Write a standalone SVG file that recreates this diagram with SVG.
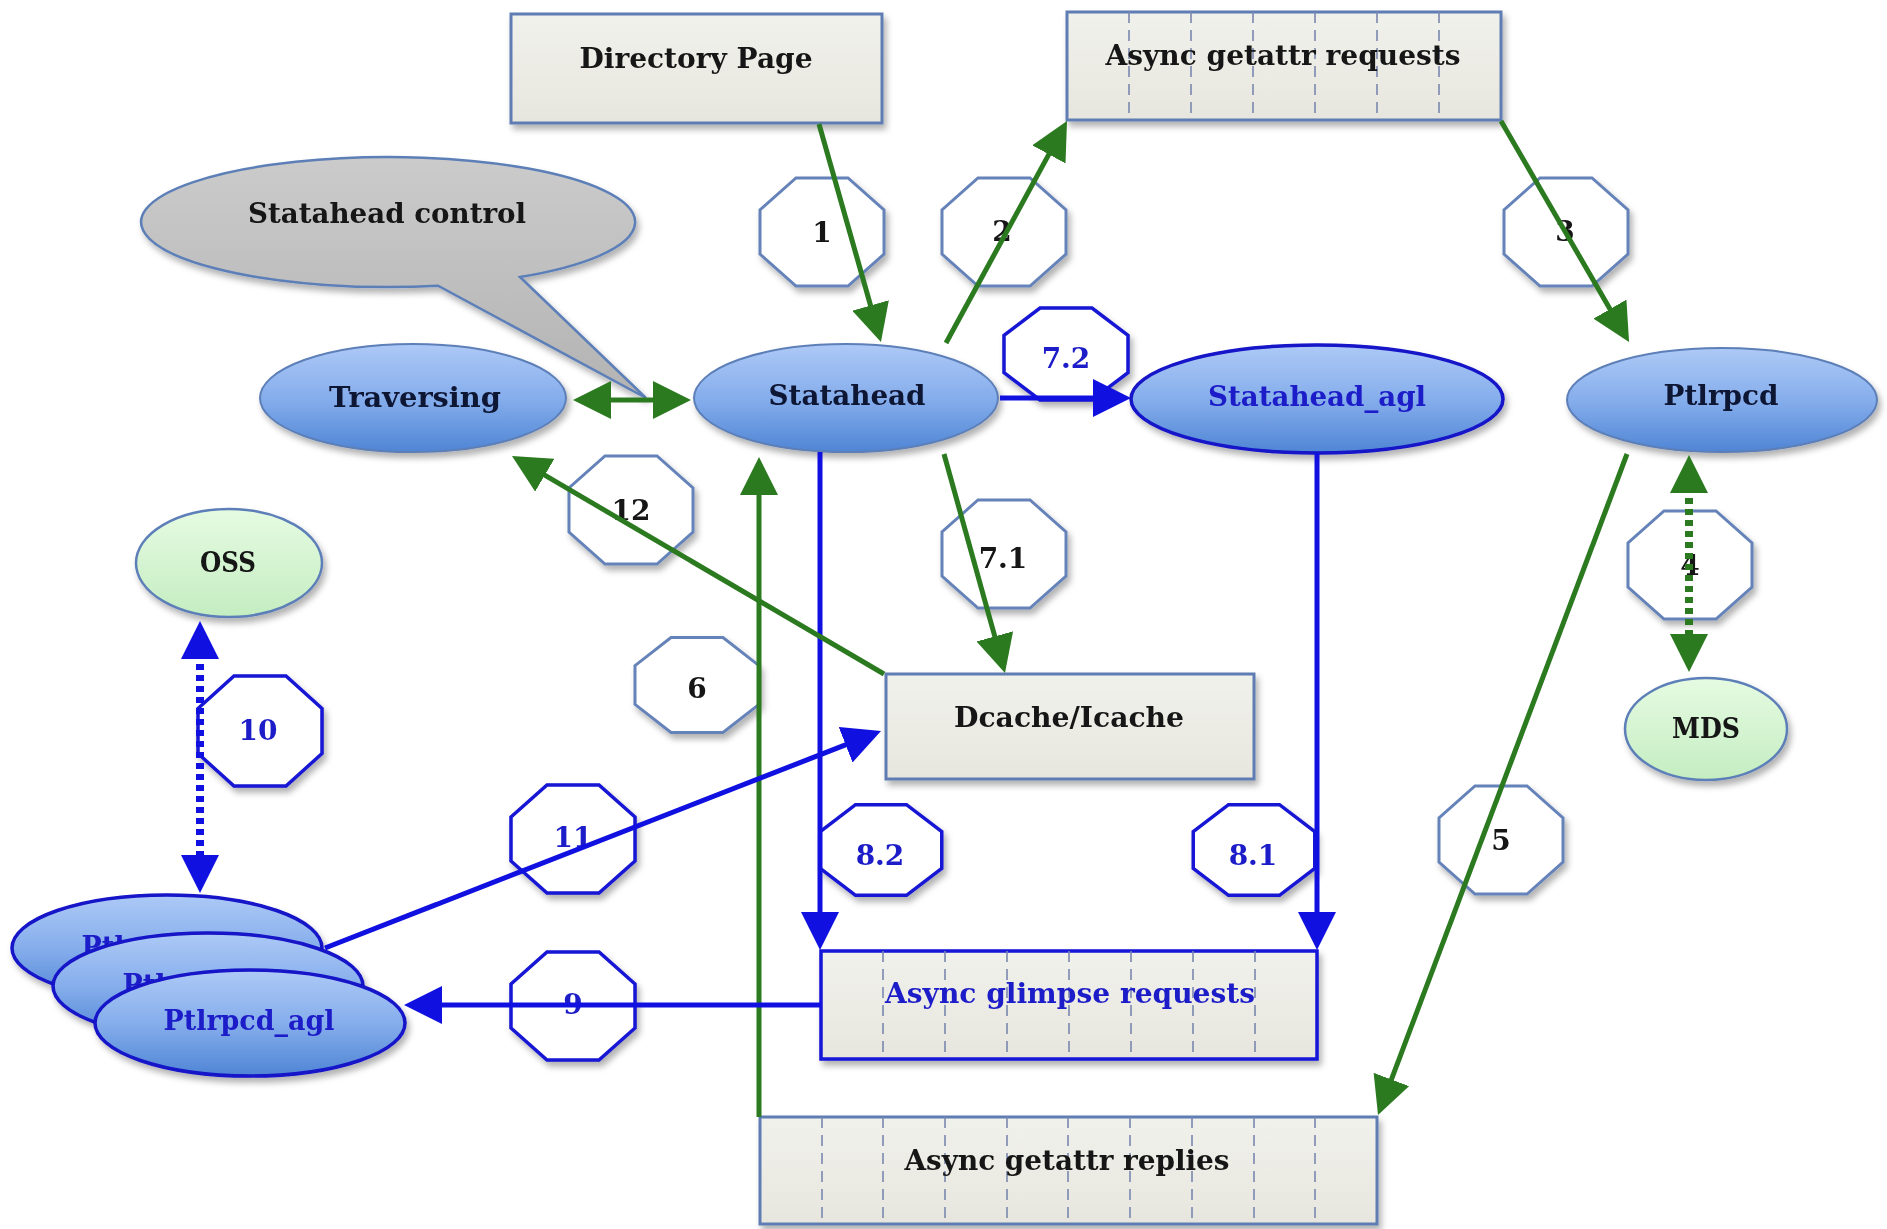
<svg xmlns="http://www.w3.org/2000/svg" width="1887" height="1229" viewBox="0 0 1887 1229">
<defs>
<style>
.t{font-family:"DejaVu Serif","Liberation Serif",serif;font-weight:bold;font-size:28px;text-anchor:middle}
.k{fill:#141414}
.n{fill:#0e1232}
.b{fill:#1c1cc8}
.box{fill:url(#gBox);stroke:#5f7db3;stroke-width:3}
.boxb{fill:url(#gBox);stroke:#1414d8;stroke-width:3.5}
.cell{stroke:#7a88b0;stroke-width:1.6;stroke-dasharray:11 7;fill:none}
.ell{fill:url(#gBlue);stroke:#5d7fb8;stroke-width:2}
.ellb{fill:url(#gBlue);stroke:#1212c8;stroke-width:3.5}
.grn{fill:url(#gGreen);stroke:#5d7fb8;stroke-width:2.5}
.oct{fill:#ffffff;stroke:#6583b9;stroke-width:3}
.octb{fill:#ffffff;stroke:#1616d4;stroke-width:3.5}
.cg{fill:none;stroke:#2b7a1f;stroke-width:5}
.cb{fill:none;stroke:#1010e0;stroke-width:5}
.dot{stroke-dasharray:6 5;stroke-width:8}
</style>
<linearGradient id="gBlue" x1="0" y1="0" x2="0" y2="1">
<stop offset="0" stop-color="#adc9f6"/><stop offset="0.5" stop-color="#86aeec"/><stop offset="1" stop-color="#4f85d5"/>
</linearGradient>
<linearGradient id="gGreen" x1="0" y1="0" x2="0" y2="1">
<stop offset="0" stop-color="#e6fbe2"/><stop offset="1" stop-color="#c4edc1"/>
</linearGradient>
<linearGradient id="gGray" x1="0" y1="0" x2="0" y2="1">
<stop offset="0" stop-color="#cbcbcb"/><stop offset="1" stop-color="#b3b3b3"/>
</linearGradient>
<linearGradient id="gBox" x1="0" y1="0" x2="0" y2="1">
<stop offset="0" stop-color="#f1f1ec"/><stop offset="1" stop-color="#e7e6de"/>
</linearGradient>
<filter id="sh" x="-20%" y="-20%" width="140%" height="150%">
<feDropShadow dx="3" dy="5" stdDeviation="3" flood-color="#000" flood-opacity="0.3"/>
</filter>
<polygon id="oct" points="-26,-54 26,-54 62,-22 62,22 26,54 -26,54 -62,22 -62,-22" vector-effect="non-scaling-stroke"/>
<marker id="ag" viewBox="0 0 38 38" markerWidth="38" markerHeight="38" refX="6" refY="19" orient="auto-start-reverse" markerUnits="userSpaceOnUse">
<path d="M0,0 L38,19 L0,38 z" fill="#2b7a1f"/>
</marker>
<marker id="ab" viewBox="0 0 38 38" markerWidth="38" markerHeight="38" refX="6" refY="19" orient="auto-start-reverse" markerUnits="userSpaceOnUse">
<path d="M0,0 L38,19 L0,38 z" fill="#1010e0"/>
</marker>
</defs>
<rect width="1887" height="1229" fill="#ffffff"/>

<g id="directory-page" filter="url(#sh)">
<rect class="box" x="511" y="14" width="371" height="109"/>
<text class="t k" x="696" y="68" textLength="233" lengthAdjust="spacingAndGlyphs">Directory Page</text>
</g>

<g id="async-getattr-requests" filter="url(#sh)">
<rect class="box" x="1067" y="12" width="434" height="108"/>
<path class="cell" d="M1129,12V120M1191,12V120M1253,12V120M1315,12V120M1377,12V120M1439,12V120"/>
<text class="t k" x="1283" y="65" textLength="355" lengthAdjust="spacingAndGlyphs">Async getattr requests</text>
</g>

<g id="statahead-control" filter="url(#sh)">
<path d="M438,285.7 A247,65 0 1,1 520,277 L646,398 Z" fill="url(#gGray)" stroke="#5d7fb8" stroke-width="2.5"/>
<text class="t k" x="387" y="223" textLength="278" lengthAdjust="spacingAndGlyphs">Statahead control</text>
</g>

<g id="traversing" filter="url(#sh)">
<ellipse class="ell" cx="413" cy="398" rx="153" ry="54"/>
<text class="t n" x="415" y="407" textLength="172" lengthAdjust="spacingAndGlyphs">Traversing</text>
</g>

<g id="statahead" filter="url(#sh)">
<ellipse class="ell" cx="846" cy="398" rx="152" ry="54"/>
<text class="t n" x="847" y="405" textLength="157" lengthAdjust="spacingAndGlyphs">Statahead</text>
</g>

<g id="statahead_agl" filter="url(#sh)">
<ellipse class="ellb" cx="1317" cy="399" rx="186" ry="54"/>
<text class="t b" x="1317" y="406" textLength="218" lengthAdjust="spacingAndGlyphs">Statahead_agl</text>
</g>

<g id="ptlrpcd" filter="url(#sh)">
<ellipse class="ell" cx="1722" cy="400" rx="155" ry="52"/>
<text class="t n" x="1721" y="405" textLength="115" lengthAdjust="spacingAndGlyphs">Ptlrpcd</text>
</g>

<g id="mds" filter="url(#sh)">
<ellipse class="grn" cx="1706" cy="729" rx="81" ry="51"/>
<text class="t k" x="1706" y="738" textLength="68" lengthAdjust="spacingAndGlyphs">MDS</text>
</g>

<g id="oss" filter="url(#sh)">
<ellipse class="grn" cx="229" cy="563" rx="93" ry="54"/>
<text class="t k" x="228" y="572" textLength="56" lengthAdjust="spacingAndGlyphs">OSS</text>
</g>

<g id="dcache-icache" filter="url(#sh)">
<rect class="box" x="886" y="674" width="368" height="105"/>
<text class="t k" x="1069" y="727" textLength="230" lengthAdjust="spacingAndGlyphs">Dcache/Icache</text>
</g>

<g id="async-glimpse-requests" filter="url(#sh)">
<rect class="boxb" x="821" y="951" width="496" height="108"/>
<path class="cell" d="M883,951V1059M945,951V1059M1007,951V1059M1069,951V1059M1131,951V1059M1193,951V1059M1255,951V1059"/>
<text class="t b" x="1070" y="1003" textLength="370" lengthAdjust="spacingAndGlyphs">Async glimpse requests</text>
</g>

<g id="async-getattr-replies" filter="url(#sh)">
<rect class="box" x="760" y="1117" width="617" height="107"/>
<path class="cell" d="M822,1117V1224M883,1117V1224M945,1117V1224M1007,1117V1224M1068,1117V1224M1130,1117V1224M1192,1117V1224M1254,1117V1224M1315,1117V1224"/>
<text class="t k" x="1067" y="1170" textLength="325" lengthAdjust="spacingAndGlyphs">Async getattr replies</text>
</g>

<g id="ptlrpcd_agl" filter="url(#sh)">
<ellipse class="ellb" cx="167" cy="948" rx="155" ry="53"/>
<text class="t b" x="167" y="956" textLength="171" lengthAdjust="spacingAndGlyphs">Ptlrpcd_agl</text>
<ellipse class="ellb" cx="208" cy="986" rx="155" ry="53"/>
<text class="t b" x="208" y="994" textLength="171" lengthAdjust="spacingAndGlyphs">Ptlrpcd_agl</text>
<ellipse class="ellb" cx="250" cy="1023" rx="155" ry="53"/>
<text class="t b" x="249" y="1030" textLength="171" lengthAdjust="spacingAndGlyphs">Ptlrpcd_agl</text>
</g>

<g id="step-labels" filter="url(#sh)">
<g id="step-1"><use href="#oct" class="oct" transform="translate(822,232)"/><text class="t k" x="822" y="242">1</text></g>
<g id="step-2"><use href="#oct" class="oct" transform="translate(1004,232)"/><text class="t k" x="1002" y="241">2</text></g>
<g id="step-3"><use href="#oct" class="oct" transform="translate(1566,232)"/><text class="t k" x="1565" y="241">3</text></g>
<g id="step-4"><use href="#oct" class="oct" transform="translate(1690,565)"/><text class="t k" x="1690" y="575">4</text></g>
<g id="step-5"><use href="#oct" class="oct" transform="translate(1501,840)"/><text class="t k" x="1501" y="850">5</text></g>
<g id="step-6"><use href="#oct" class="oct" transform="translate(697,685) scale(1,0.88)"/><text class="t k" x="697" y="698">6</text></g>
<g id="step-7-1"><use href="#oct" class="oct" transform="translate(1004,554)"/><text class="t k" x="1003" y="568">7.1</text></g>
<g id="step-7-2"><use href="#oct" class="octb" transform="translate(1066,354) scale(1,0.85)"/><text class="t b" x="1066" y="368">7.2</text></g>
<g id="step-8-1"><use href="#oct" class="octb" transform="translate(1254,850) scale(0.98,0.84)"/><text class="t b" x="1253" y="865">8.1</text></g>
<g id="step-8-2"><use href="#oct" class="octb" transform="translate(881,850) scale(0.98,0.84)"/><text class="t b" x="880" y="865">8.2</text></g>
<g id="step-9"><use href="#oct" class="octb" transform="translate(573,1006)"/><text class="t b" x="573" y="1014">9</text></g>
<g id="step-10"><use href="#oct" class="octb" transform="translate(260,731) scale(1,1.02)"/><text class="t b" x="258" y="740">10</text></g>
<g id="step-11"><use href="#oct" class="octb" transform="translate(573,839)"/><text class="t b" x="573" y="847">11</text></g>
<g id="step-12"><use href="#oct" class="oct" transform="translate(631,510)"/><text class="t k" x="631" y="520">12</text></g>
</g>

<g id="connectors">
<line class="cg" x1="605" y1="400" x2="659" y2="400" marker-start="url(#ag)" marker-end="url(#ag)"/>
<line class="cg" x1="819" y1="124" x2="872.2" y2="311.2" marker-end="url(#ag)"/>
<line class="cg" x1="946" y1="343" x2="1051.7" y2="149.1" marker-end="url(#ag)"/>
<line class="cg" x1="1501" y1="121" x2="1613" y2="314.3" marker-end="url(#ag)"/>
<line class="cg dot" x1="1689" y1="487" x2="1689" y2="640" marker-start="url(#ag)" marker-end="url(#ag)"/>
<line class="cg" x1="1627" y1="454" x2="1389.3" y2="1085.1" marker-end="url(#ag)"/>
<line class="cg" x1="759" y1="1117" x2="759" y2="489" marker-end="url(#ag)"/>
<line class="cg" x1="944" y1="454" x2="996.4" y2="642.2" marker-end="url(#ag)"/>
<line class="cb" x1="1000" y1="398" x2="1099" y2="398" marker-end="url(#ab)"/>
<line class="cb" x1="820" y1="452" x2="820" y2="918" marker-end="url(#ab)"/>
<line class="cb" x1="1317" y1="453" x2="1317" y2="918" marker-end="url(#ab)"/>
<line class="cb" x1="821" y1="1005" x2="436" y2="1005" stroke-width="6" marker-end="url(#ab)"/>
<line class="cb dot" x1="200" y1="653" x2="200" y2="861" marker-start="url(#ab)" marker-end="url(#ab)"/>
<line class="cb" x1="325" y1="948" x2="851.2" y2="742.6" marker-end="url(#ab)"/>
<line class="cg" x1="884" y1="674" x2="539.6" y2="472.2" marker-end="url(#ag)"/>
</g>
</svg>
